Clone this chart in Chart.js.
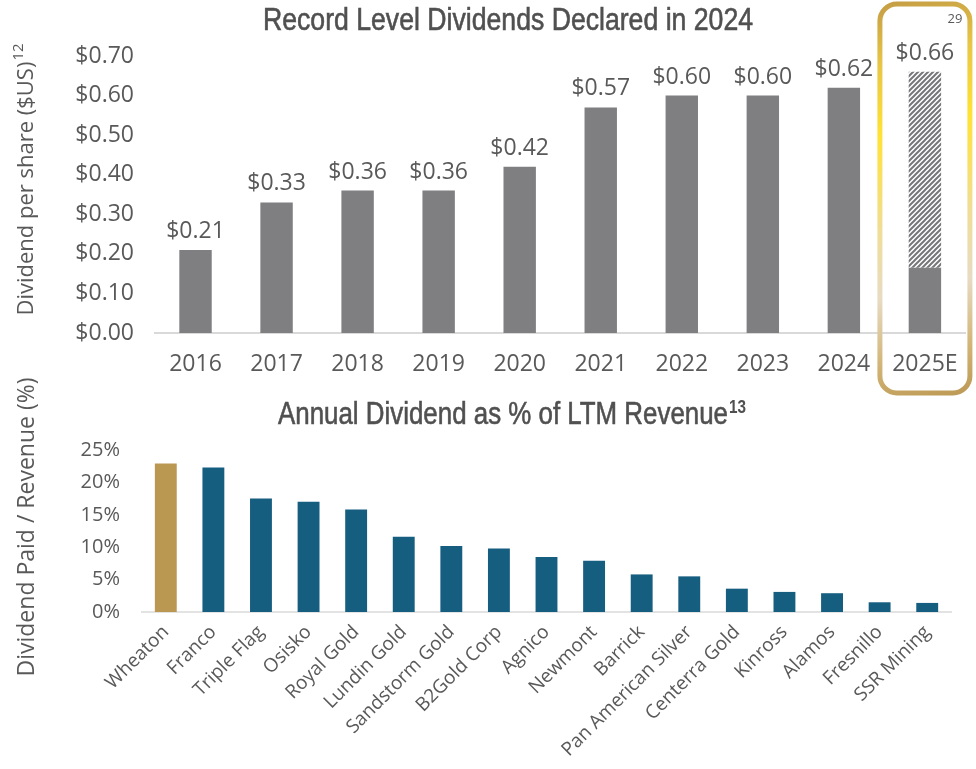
<!DOCTYPE html>
<html>
<head>
<meta charset="utf-8">
<script src="https://cdn.jsdelivr.net/npm/chart.js@4.4.1/dist/chart.umd.min.js"></script>
<style>
  body { margin: 0; background: #fff; width: 976px; height: 769px; overflow: hidden; position: relative; }
  #topChart { position: absolute; left: 0; top: 0; }
  #bottomChart { position: absolute; left: 0; top: 360px; }
</style>
</head>
<body>
<canvas id="topChart" width="976" height="400"></canvas>
<canvas id="bottomChart" width="976" height="409"></canvas>
<script>
// dividends per share, $US
const years = ['2016', '2017', '2018', '2019', '2020', '2021', '2022', '2023', '2024', '2025E'];
const paidDividends = [0.21, 0.33, 0.36, 0.36, 0.42, 0.57, 0.60, 0.60, 0.62, 0.165];
const estimatedDividends = [null, null, null, null, null, null, null, null, null, 0.495];

// annual dividend as % of LTM revenue
const companies = ['Wheaton', 'Franco', 'Triple Flag', 'Osisko', 'Royal Gold', 'Lundin Gold', 'Sandstorm Gold',
  'B2Gold Corp', 'Agnico', 'Newmont', 'Barrick', 'Pan American Silver', 'Centerra Gold', 'Kinross',
  'Alamos', 'Fresnillo', 'SSR Mining'];
const dividendToRevenue = [22.9, 22.3, 17.5, 17.0, 15.8, 11.6, 10.2, 9.8, 8.5, 7.9, 5.8, 5.5, 3.6, 3.1, 2.9, 1.5, 1.4];

const TEXT = '#595959';
const TITLE = '#505050';
const GRAY = '#7f7f82';
const BLUE = '#165e80';
const GOLD = '#ba9852';

// draws text squeezed to a given width (narrow title look)
function narrowText(ctx, text, x, y, size, width) {
  ctx.save();
  ctx.font = size + 'px "Liberation Sans", Arial, sans-serif';
  const w = ctx.measureText(text).width;
  ctx.translate(x, y);
  ctx.scale(width / w, 1);
  ctx.textAlign = 'left';
  ctx.textBaseline = 'alphabetic';
  ctx.fillStyle = TITLE;
  ctx.strokeStyle = TITLE;
  ctx.lineWidth = 0.6;
  ctx.fillText(text, 0, 0);
  ctx.strokeText(text, 0, 0);
  ctx.restore();
}

function sideTitle(ctx, text, sup, cx, cy, size) {
  ctx.save();
  ctx.translate(cx, cy);
  ctx.rotate(-Math.PI / 2);
  ctx.fillStyle = TEXT;
  ctx.textAlign = 'left';
  ctx.textBaseline = 'middle';
  ctx.font = size + 'px "Open Sans"';
  const w = ctx.measureText(text).width;
  const supFont = Math.round(size * 0.66) + 'px "Open Sans"';
  ctx.font = supFont;
  const ws = sup ? ctx.measureText(sup).width : 0;
  const start = -(w + ws) / 2;
  ctx.font = size + 'px "Open Sans"';
  ctx.fillText(text, start, 0);
  if (sup) {
    ctx.font = supFont;
    ctx.fillText(sup, start + w + 1, -size * 0.38);
  }
  ctx.restore();
}

function hatchPattern() {
  const c = document.createElement('canvas');
  c.width = 5; c.height = 5;
  const g = c.getContext('2d');
  g.fillStyle = '#fff';
  g.fillRect(0, 0, 5, 5);
  g.strokeStyle = '#76767a';
  g.lineWidth = 2;
  g.beginPath();
  g.moveTo(-1, 6); g.lineTo(6, -1);
  g.moveTo(-1, 1); g.lineTo(1, -1);
  g.moveTo(4, 6); g.lineTo(6, 4);
  g.stroke();
  return g.createPattern(c, 'repeat');
}

const topDecor = {
  id: 'topDecor',
  afterDatasetsDraw(chart) {
    const { ctx, scales: { x, y } } = chart;
    ctx.save();
    ctx.font = '23px "Open Sans"';
    ctx.fillStyle = TEXT;
    ctx.textAlign = 'center';
    ctx.textBaseline = 'alphabetic';
    years.forEach((yr, i) => {
      const total = (paidDividends[i] || 0) + (estimatedDividends[i] || 0);
      ctx.fillText('$' + total.toFixed(2), x.getPixelForValue(i), y.getPixelForValue(total) - 12);
    });
    ctx.restore();
  },
  afterDraw(chart) {
    const { ctx, scales: { x } } = chart;
    narrowText(ctx, 'Record Level Dividends Declared in 2024', 263, 30, 31, 490);
    sideTitle(ctx, 'Dividend per share ($US)', '12', 27, 180, 22);

    // gold frame around the estimate year
    const cx = x.getPixelForValue(years.length - 1);
    const left = cx - 45, right = cx + 45, top = 4, bottom = 393, r = 17;
    ctx.save();
    const grad = ctx.createLinearGradient(left, top, right, bottom);
    grad.addColorStop(0, '#c59e45');
    grad.addColorStop(0.15, '#e8c646');
    grad.addColorStop(0.32, '#ffe236');
    grad.addColorStop(0.55, '#f0dd96');
    grad.addColorStop(0.72, '#e7dbc3');
    grad.addColorStop(0.88, '#d2b577');
    grad.addColorStop(1, '#bd9a55');
    ctx.strokeStyle = grad;
    ctx.lineWidth = 5;
    ctx.beginPath();
    ctx.roundRect(left, top, right - left, bottom - top, r);
    ctx.stroke();
    ctx.fillStyle = TEXT;
    ctx.font = '13px "Open Sans"';
    ctx.textAlign = 'center';
    ctx.fillText('29', 955, 23);
    ctx.restore();
  }
};

new Chart(document.getElementById('topChart'), {
  type: 'bar',
  data: {
    labels: years,
    datasets: [
      { label: 'Declared', data: paidDividends, backgroundColor: GRAY, barPercentage: 0.4, categoryPercentage: 1 },
      { label: 'Estimate', data: estimatedDividends, backgroundColor: hatchPattern(), barPercentage: 0.4, categoryPercentage: 1 }
    ]
  },
  options: {
    responsive: false,
    animation: false,
    layout: { padding: { top: 56, right: 8, left: 0, bottom: 0 } },
    plugins: { legend: { display: false }, tooltip: { enabled: false } },
    scales: {
      x: {
        stacked: true,
        grid: { display: false, drawTicks: false },
        border: { color: '#d9d9d9', width: 2 },
        ticks: { color: TEXT, font: { family: 'Open Sans', size: 23 }, padding: 18 },
        afterFit: s => { s.height = 67; }
      },
      y: {
        stacked: true,
        min: 0,
        max: 0.7,
        grid: { display: false, drawTicks: false },
        border: { display: false },
        ticks: {
          stepSize: 0.1,
          color: TEXT,
          font: { family: 'Open Sans', size: 23 },
          padding: 21,
          callback: v => '$' + Number(v).toFixed(2)
        },
        afterFit: s => { s.width = 155; }
      }
    }
  },
  plugins: [topDecor]
});

const bottomDecor = {
  id: 'bottomDecor',
  afterDraw(chart) {
    const { ctx } = chart;
    narrowText(ctx, 'Annual Dividend as % of LTM Revenue', 278, 64, 31, 450);
    ctx.save();
    ctx.fillStyle = TITLE;
    ctx.font = 'bold 18px "Liberation Sans", Arial, sans-serif';
    ctx.translate(729, 53);
    ctx.scale(0.85, 1);
    ctx.fillText('13', 0, 0);
    ctx.restore();
    sideTitle(ctx, 'Dividend Paid / Revenue (%)', null, 27, 167, 23);
  }
};

new Chart(document.getElementById('bottomChart'), {
  type: 'bar',
  data: {
    labels: companies,
    datasets: [{
      label: 'Dividend / Revenue',
      data: dividendToRevenue,
      backgroundColor: companies.map((c, i) => i === 0 ? GOLD : BLUE),
      barPercentage: 0.46,
      categoryPercentage: 1
    }]
  },
  options: {
    responsive: false,
    animation: false,
    layout: { padding: { top: 90, right: 25, left: 0, bottom: 0 } },
    plugins: { legend: { display: false }, tooltip: { enabled: false } },
    scales: {
      x: {
        grid: { display: false, drawTicks: false },
        border: { color: '#e3e3e3', width: 2 },
        ticks: {
          color: TEXT,
          font: { family: 'Open Sans', size: 19 },
          minRotation: 45,
          maxRotation: 45,
          autoSkip: false,
          padding: 9
        },
        afterFit: s => { s.height = 157; }
      },
      y: {
        min: 0,
        max: 25,
        grid: { display: false, drawTicks: false },
        border: { display: false },
        ticks: {
          stepSize: 5,
          color: TEXT,
          font: { family: 'Open Sans', size: 20 },
          padding: 22,
          callback: v => v + '%'
        },
        afterFit: s => { s.width = 142; }
      }
    }
  },
  plugins: [bottomDecor]
});
</script>
</body>
</html>
